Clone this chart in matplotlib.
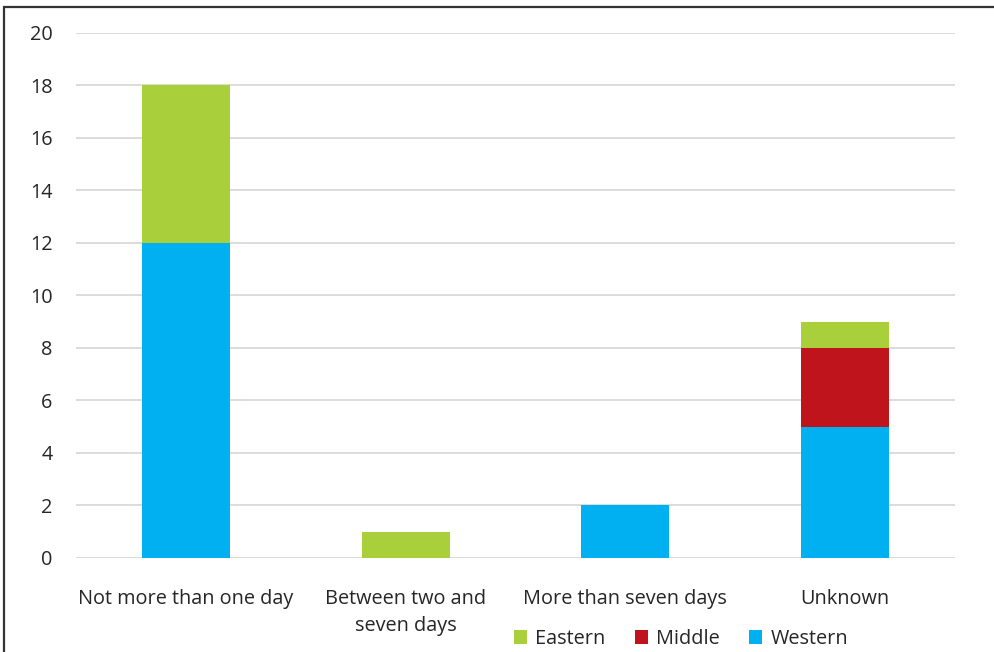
import numpy as np
import matplotlib.pyplot as plt
from matplotlib.patches import Rectangle

plt.rcParams['font.family'] = ['Open Sans', 'DejaVu Sans']

# Data
categories = ['Not more than one day', 'Between two and\nseven days',
              'More than seven days', 'Unknown']
western = [12, 0, 2, 5]
middle = [0, 0, 0, 3]
eastern = [6, 1, 0, 1]

col_west = '#00B0F0'
col_mid = '#C0141C'
col_east = '#A9D03A'
txt_col = '#262626'
fs = 14.3

fig = plt.figure(figsize=(9.94, 6.52), dpi=100)
ax = fig.add_axes([0.0765, 0.1442, 0.8843, 0.8052])

x = np.arange(len(categories))
w = 0.4
west = np.array(western)
mid = np.array(middle)
east = np.array(eastern)

b_w = ax.bar(x, west, w, color=col_west, zorder=3, label='Western')
b_m = ax.bar(x, mid, w, bottom=west, color=col_mid, zorder=3, label='Middle')
b_e = ax.bar(x, east, w, bottom=west + mid, color=col_east, zorder=3, label='Eastern')

ax.set_xlim(-0.5, 3.5)
ax.set_ylim(0, 20)
ax.set_yticks(np.arange(0, 21, 2))
ax.yaxis.grid(True, color='#D9D9D9', linewidth=1.3, zorder=0)
ax.set_axisbelow(True)
for s in ax.spines.values():
    s.set_visible(False)

ax.set_xticks(x)
ax.set_xticklabels(categories, fontsize=fs, color=txt_col, linespacing=1.5)
ax.tick_params(axis='x', length=0, pad=22)
ax.tick_params(axis='y', length=0, pad=17, labelsize=fs, labelcolor=txt_col)

fig.legend([b_e, b_m, b_w], ['Eastern', 'Middle', 'Western'],
           loc='center', bbox_to_anchor=(681 / 994, 1 - 639 / 652),
           ncol=3, frameon=False, fontsize=fs, labelcolor=txt_col,
           handlelength=0.65, handleheight=0.65, handletextpad=0.4,
           columnspacing=1.5)

# frame around the chart
fig.patches.append(Rectangle((0.004, -0.2), 1.2, 1.19, transform=fig.transFigure,
                             fill=False, edgecolor='#333333', linewidth=1.6))

fig.savefig('out.png', dpi=100)
